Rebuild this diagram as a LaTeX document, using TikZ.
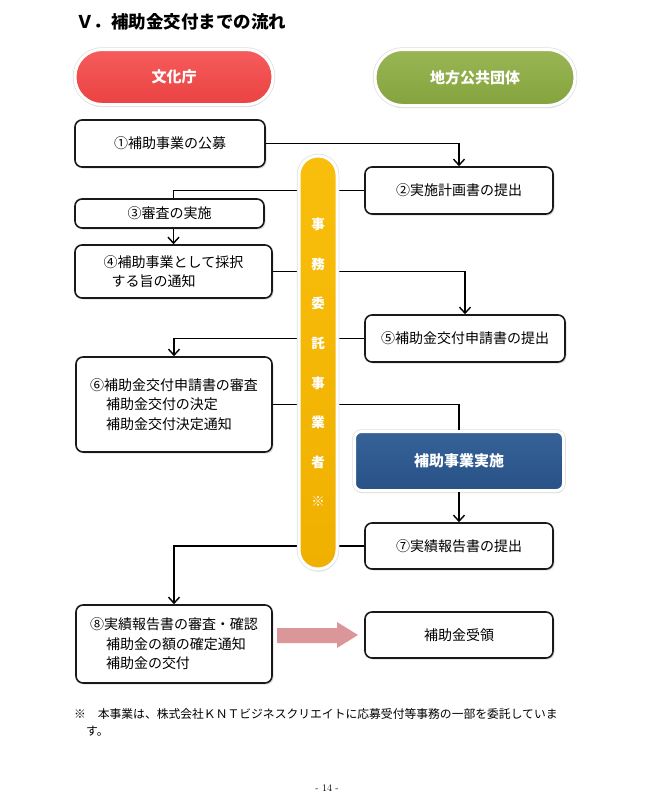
\documentclass[tikz,border=0pt]{standalone}
\usepackage{fontspec}
\newfontfamily\jp{Noto Sans CJK JP}
\usetikzlibrary{arrows.meta,shadows,calc}
\definecolor{redtop}{RGB}{246,92,92}
\definecolor{redbot}{RGB}{234,66,66}
\definecolor{greentop}{RGB}{153,182,84}
\definecolor{greenbot}{RGB}{132,163,62}
\definecolor{bluetop}{RGB}{54,98,152}
\definecolor{bluebot}{RGB}{40,82,134}
\definecolor{yeltop}{RGB}{249,190,12}
\definecolor{yelbot}{RGB}{240,176,0}
\definecolor{pinkarr}{RGB}{219,150,153}
\tikzset{
  flowbox/.style={draw=black!90, line width=1.6pt, rounded corners=7pt, fill=white,
    drop shadow={opacity=0.25, shadow xshift=1.5pt, shadow yshift=-1.5pt},
    font=\jp\fontsize{14}{19.5}\selectfont, inner sep=0pt, align=left},
  pillbox/.style={drop shadow={opacity=0.35, shadow xshift=0.5pt, shadow yshift=-2.5pt},
    preaction={draw=black!12, line width=4.5pt},
    draw=white, line width=3pt, text=white, inner sep=0pt,
    font=\jp\bfseries\fontsize{15}{18}\selectfont},
  conn/.style={line width=1.4pt, black},
  arr/.style={conn, -{Straight Barb[length=6pt,width=11pt]}}
}
\begin{document}
\begin{tikzpicture}[x=1pt,y=-1pt]
\useasboundingbox (0,0) rectangle (650,807);
\fill[white] (0,0) rectangle (650,807);

% title
\node[anchor=base west, inner sep=0pt, font=\jp\bfseries\fontsize{17.5}{20}\selectfont] (title) at (76,28.5) {Ｖ．補助金交付までの流れ};

% header pills
\node[pillbox, rounded corners=27pt, top color=redtop, bottom color=redbot,
  minimum width=198pt, minimum height=55pt] (bunka) at (174,77) {文化庁};
\node[pillbox, rounded corners=27.5pt, top color=greentop, bottom color=greenbot,
  minimum width=200pt, minimum height=56pt] (chiho) at (475,77.5) {地方公共団体};

% boxes
\node[flowbox, minimum width=190pt, minimum height=47pt] (b1) at (170,143.5) {①補助事業の公募};
\node[flowbox, minimum width=188pt, minimum height=47pt] (b2) at (459,190.5) {②実施計画書の提出};
\node[flowbox, minimum width=189pt, minimum height=29pt] (b3) at (169.5,213.5) {③審査の実施};
\node[flowbox, minimum width=197pt, minimum height=53pt] (b4) at (173.5,271.5) {④補助事業として採択\\\hspace*{8pt}する旨の通知};
\node[flowbox, minimum width=200pt, minimum height=47pt] (b5) at (465,338.5) {⑤補助金交付申請書の提出};
\node[flowbox, minimum width=196pt, minimum height=95pt] (b6) at (174,404.5) {⑥補助金交付申請書の審査\\\hspace*{16pt}補助金交付の決定\\\hspace*{16pt}補助金交付決定通知};
\node[pillbox, rounded corners=7pt, top color=bluetop, bottom color=bluebot,
  minimum width=209pt, minimum height=59pt] (jisshi) at (459,461) {補助事業実施};
\node[flowbox, minimum width=188pt, minimum height=46pt] (b7) at (459,546) {⑦実績報告書の提出};
\node[flowbox, minimum width=196pt, minimum height=78pt] (b8) at (174,644) {⑧実績報告書の審査・確認\\\hspace*{16pt}補助金の額の確定通知\\\hspace*{16pt}補助金の交付};
\node[flowbox, minimum width=188pt, minimum height=46pt] (recv) at (459,635) {補助金受領};

% connectors
\draw[arr] (b1.east) -| (b2.north);
\draw[conn] (b2.west) -| (b4.north |- b3.north);
\draw[arr] (b4.north |- b3.south) -- (b4.north);
\draw[arr] (b4.east) -| (b5.north);
\draw[arr] (b5.west) -| (b6.north);
\draw[conn] (b6.east) -| (jisshi.north);
\draw[arr] (jisshi.south) -- (b7.north);
\draw[arr] (b7.west) -| (b8.north);

% pink block arrow
\fill[pinkarr] (277,628) -- (337,628) -- (337,622) -- (358,635) -- (337,648) -- (337,643) -- (277,643) -- cycle;

% vertical yellow pill
\node[pillbox, rounded corners=18.9pt, top color=yeltop, bottom color=yelbot,
  minimum width=38pt, minimum height=413pt, align=center,
  font=\jp\bfseries\fontsize{13.5}{39.6}\selectfont] (itaku) at (318,362.5)
  {事\\務\\委\\託\\事\\業\\者\\※};

% footnote
\node[anchor=base west, inner sep=0pt, align=left, font=\jp\fontsize{11.8}{17}\selectfont] (note) at (74,735.5)
  {※　本事業は、株式会社ＫＮＴビジネスクリエイトに応募受付等事務の一部を委託していま\\\hspace*{12pt}す。};

% page number
\node[font=\fontsize{10}{12}\selectfont, inner sep=0pt] (page) at (327,788) {- 14 -};
\end{tikzpicture}
\end{document}
